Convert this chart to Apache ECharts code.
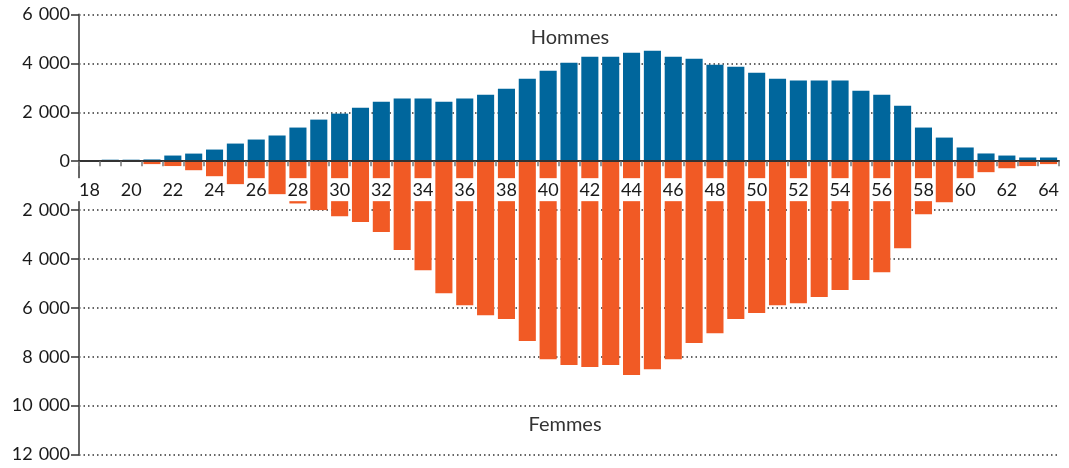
<!DOCTYPE html>
<html>
<head>
<meta charset="utf-8">
<script src="https://cdn.jsdelivr.net/npm/echarts@6/dist/echarts.min.js"></script>
<style>
  html, body { margin: 0; padding: 0; background: #fff; }
  #chart { width: 1069px; height: 468px; }
</style>
</head>
<body>
<div id="chart"></div>
<script>
// ages 18..64
const ages = [];
for (let a = 18; a <= 64; a++) ages.push(String(a));

// men (up)
const hommes = [
  0, 60, 60, 70, 230, 310, 475, 720, 885, 1050,
  1375, 1700, 1945, 2190, 2435, 2560, 2560, 2435, 2560, 2720,
  2965, 3375, 3700, 4030, 4270, 4270, 4435, 4520, 4270, 4190,
  3945, 3865, 3620, 3375, 3295, 3295, 3295, 2885, 2720, 2270,
  1375, 965, 560, 315, 230, 150, 150
];

// women (down, negative)
const femmes = [
  0, 0, 0, -120, -200, -370, -615, -940, -1150, -1350,
  -1730, -2000, -2250, -2490, -2900, -3630, -4460, -5400, -5890, -6300,
  -6460, -7360, -8100, -8340, -8425, -8340, -8750, -8510, -8100, -7440,
  -7035, -6460, -6215, -5890, -5810, -5560, -5275, -4865, -4540, -3560,
  -2170, -1680, -1050, -450, -290, -200, -120
];

// ages that get a label under the zero line
const ageLabels = ages.filter((a, i) => i % 2 === 0);

const seriesNames = ['Hommes', 'Femmes'];

const fontFamily = 'Lato, "DejaVu Sans", sans-serif';

const chart = echarts.init(document.getElementById('chart'));

// 6000 -> "6 000", negatives shown without sign
const fmt = v => String(Math.abs(v)).replace(/\B(?=(\d{3})+(?!\d))/g, '\u2004');

chart.setOption({
  animation: false,
  grid: { left: 79, right: 10, top: 14.5, bottom: 13.5, outerBoundsMode: 'none' },
  xAxis: {
    type: 'category',
    data: ages,
    z: 5,
    axisLine: { onZero: true, lineStyle: { color: '#333', width: 2 } },
    axisTick: { show: true, length: 5, lineStyle: { color: '#777', width: 1.5 } },
    axisLabel: { show: false },
    splitLine: { show: false }
  },
  yAxis: {
    type: 'value',
    min: -12000,
    max: 6000,
    interval: 2000,
    axisLine: { show: true, lineStyle: { color: '#666', width: 2 } },
    axisTick: { show: true, length: 8, lineStyle: { color: '#333', width: 1.5 } },
    axisLabel: {
      margin: 9,
      color: '#1a1a1a',
      fontSize: 18,
      fontFamily: fontFamily,
      formatter: fmt
    },
    splitLine: { show: true, lineStyle: { color: '#333', width: 1.5, type: [1.5, 3] } }
  },
  graphic: [
    {
      type: 'text', x: 570, y: 38,
      style: { text: seriesNames[0], fill: '#333', font: '20px ' + fontFamily, textAlign: 'center', textVerticalAlign: 'middle' }
    },
    {
      type: 'text', x: 565, y: 425,
      style: { text: seriesNames[1], fill: '#333', font: '20px ' + fontFamily, textAlign: 'center', textVerticalAlign: 'middle' }
    }
  ],
  series: [
    {
      name: seriesNames[0],
      type: 'bar',
      data: hommes,
      barWidth: '82%',
      barGap: '-100%',
      itemStyle: { color: '#00669c' }
    },
    {
      name: seriesNames[1],
      type: 'bar',
      data: femmes,
      barWidth: '82%',
      barGap: '-100%',
      itemStyle: { color: '#f15a25' }
    },
    {
      // age labels sitting on white boxes just under the zero line
      name: 'ages',
      type: 'scatter',
      z: 4,
      symbolSize: 0,
      silent: true,
      itemStyle: { opacity: 1 },
      data: ageLabels.map(a => [a, 0]),
      label: {
        show: true,
        opacity: 1,
        position: 'bottom',
        distance: 17,
        formatter: p => p.value[0],
        color: '#1a1a1a',
        fontSize: 18,
        lineHeight: 18,
        fontFamily: fontFamily,
        backgroundColor: '#fff',
        padding: [3, 1, 2, 1]
      }
    }
  ]
});
</script>
</body>
</html>
